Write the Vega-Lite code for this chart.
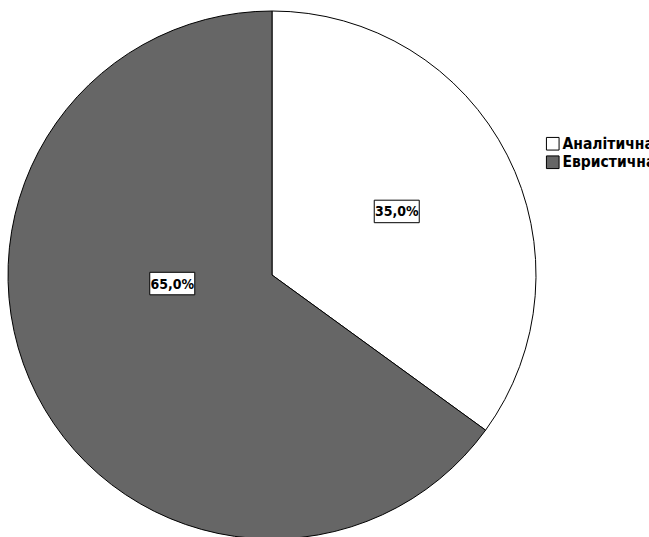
{
  "$schema": "https://vega.github.io/schema/vega-lite/v6.json",
  "width": 544,
  "height": 550,
  "padding": 0,
  "autosize": {"type": "pad"},
  "background": "white",
  "config": {"view": {"stroke": null}},
  "data": {"values": [
    {"category": "Аналітична", "pct": 35.0, "label": "35,0%"},
    {"category": "Евристична", "pct": 65.0, "label": "65,0%"}
  ]},
  "layer": [
    {
      "mark": {"type": "arc", "outerRadius": 264, "stroke": "black", "strokeWidth": 1},
      "encoding": {
        "theta": {"field": "pct", "type": "quantitative", "stack": true},
        "order": {"field": "category", "type": "nominal", "sort": "ascending"},
        "color": {
          "field": "category", "type": "nominal",
          "scale": {"domain": ["Аналітична", "Евристична"], "range": ["#ffffff", "#666666"]},
          "legend": {
            "title": null, "orient": "none", "legendX": 545, "legendY": 136,
            "symbolType": "square", "symbolSize": 160, "symbolStrokeColor": "black", "symbolStrokeWidth": 1,
            "labelFont": "DejaVu Sans Condensed, Liberation Sans", "labelFontWeight": "bold", "labelFontSize": 15.5, "labelColor": "black",
            "rowPadding": 0.5, "labelOffset": 2, "labelLimit": 0, "padding": 0
          }
        }
      }
    },
    {
      "transform": [
        {"joinaggregate": [{"op": "sum", "field": "pct", "as": "total"}]},
        {"window": [{"op": "sum", "field": "pct", "as": "cum"}], "sort": [{"field": "category", "order": "ascending"}]},
        {"calculate": "(datum.cum - datum.pct / 2) / datum.total * 2 * PI", "as": "mid"},
        {"calculate": "140 * sin(datum.mid)", "as": "lx"},
        {"calculate": "140 * cos(datum.mid)", "as": "ly"}
      ],
      "encoding": {
        "x": {"field": "lx", "type": "quantitative", "scale": {"domain": [-272, 272], "nice": false, "zero": false}, "axis": null},
        "y": {"field": "ly", "type": "quantitative", "scale": {"domain": [-275, 275], "nice": false, "zero": false}, "axis": null}
      },
      "layer": [
        {
          "transform": [{"filter": "datum.category === 'Аналітична'"}],
          "layer": [
            {"mark": {"type": "point", "shape": "M-1,-0.5H1V0.5H-1Z", "size": 2025, "filled": true, "fill": "white", "stroke": "black", "strokeWidth": 1, "opacity": 1}},
            {"mark": {"type": "text", "font": "DejaVu Sans Condensed, Liberation Sans", "fontWeight": "bold", "fontSize": 14, "color": "black", "baseline": "middle", "dy": 1}, "encoding": {"text": {"field": "label"}}}
          ]
        },
        {
          "transform": [{"filter": "datum.category === 'Евристична'"}],
          "layer": [
            {"mark": {"type": "point", "shape": "M-1,-0.5H1V0.5H-1Z", "size": 2025, "filled": true, "fill": "white", "stroke": "black", "strokeWidth": 1, "opacity": 1, "xOffset": 25, "yOffset": -55}},
            {"mark": {"type": "text", "font": "DejaVu Sans Condensed, Liberation Sans", "fontWeight": "bold", "fontSize": 14, "color": "black", "baseline": "middle", "dx": 25, "dy": -54}, "encoding": {"text": {"field": "label"}}}
          ]
        }
      ]
    }
  ]
}
